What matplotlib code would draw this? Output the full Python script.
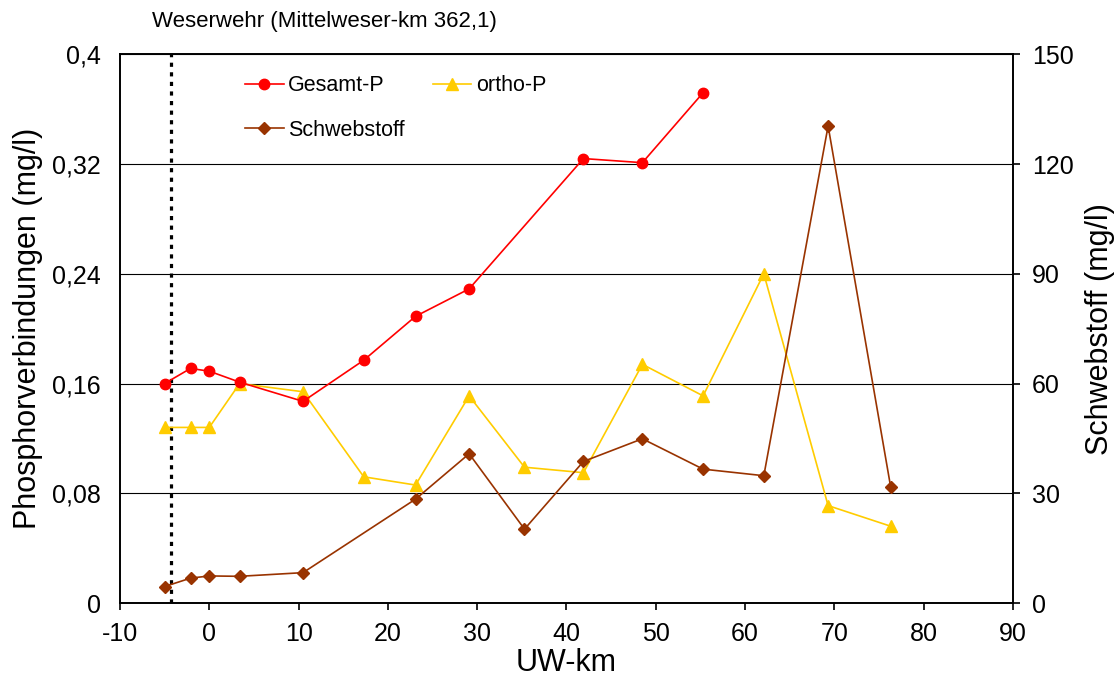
import matplotlib
matplotlib.use('Agg')
import matplotlib.pyplot as plt
from matplotlib.ticker import FuncFormatter

plt.rcParams['font.family'] = ['Liberation Sans', 'DejaVu Sans']
plt.rcParams['axes.unicode_minus'] = False

# UW-km Stationen
km = [-5.0, -2.1, 0.0, 3.4, 10.5, 17.3, 23.1, 29.1, 35.3, 41.9, 48.5, 55.3, 62.1, 69.3, 76.3]

gesamt_p_km = km[:12]
gesamt_p = [0.160, 0.171, 0.169, 0.161, 0.147, 0.177, 0.209, 0.229, None, 0.324, 0.321, 0.372]
ortho_p = [0.128, 0.128, 0.128, 0.160, 0.154, 0.092, 0.086, 0.151, 0.099, 0.095, 0.174, 0.151, 0.240, 0.071, 0.056]
schwebstoff = [4.5, 6.8, 7.4, 7.3, 8.3, None, 28.4, 40.8, 20.2, 38.7, 44.9, 36.6, 34.8, 130.4, 31.8]

wehr_km = -4.3

# Luecken rausnehmen, Linie verbindet die vorhandenen Punkte
gp_x = [x for x, v in zip(gesamt_p_km, gesamt_p) if v is not None]
gp_y = [v for v in gesamt_p if v is not None]
sw_x = [x for x, v in zip(km, schwebstoff) if v is not None]
sw_y = [v for v in schwebstoff if v is not None]

fig = plt.figure(figsize=(11.14, 6.84), dpi=100)
ax = fig.add_axes([0.1077, 0.1184, 0.8016, 0.8022])
ax2 = ax.twinx()

ax.set_xlim(-10, 90)
ax.set_ylim(0, 0.4)
ax2.set_ylim(0, 150)

ax.set_yticks([0, 0.08, 0.16, 0.24, 0.32, 0.4])
ax.yaxis.set_major_formatter(FuncFormatter(lambda v, p: ('%g' % round(v, 2)).replace('.', ',')))
ax.set_xticks(range(-10, 91, 10))
ax2.set_yticks(range(0, 151, 30))

ax.grid(axis='y', color='black', linewidth=0.8)
ax.set_axisbelow(True)

ax.axvline(wehr_km, color='black', linewidth=2.3, linestyle=(0, (1.3, 1.7)), dash_capstyle='butt', zorder=2)

l1, = ax.plot(gp_x, gp_y, color='#FF0000', marker='o', markersize=7.5, linewidth=1.2, label='Gesamt-P', zorder=4)
l2, = ax.plot(km, ortho_p, color='#FFCC00', marker='^', markersize=8, linewidth=1.2, label='ortho-P', zorder=3)
l3, = ax2.plot(sw_x, sw_y, color='#993300', marker='D', markersize=6, linewidth=1.2, label='Schwebstoff', zorder=3)

for a in (ax, ax2):
    for s in a.spines.values():
        s.set_linewidth(1.2)
        s.set_color('black')

ax.tick_params(axis='x', direction='out', length=5, width=1.2, labelsize=18, pad=9)
ax.tick_params(axis='y', length=0, labelsize=18, pad=14)
ax2.tick_params(axis='y', direction='out', length=5, width=1.2, labelsize=18, pad=8.5)

ax.set_xlabel('UW-km', fontsize=22, labelpad=1)
ax.set_ylabel('Phosphorverbindungen (mg/l)', fontsize=22, labelpad=6)
ax2.set_ylabel('Schwebstoff (mg/l)', fontsize=22, labelpad=8)

fig.text(152 / 1114, 1 - 22 / 684, 'Weserwehr (Mittelweser-km 362,1)', fontsize=16, va='center', ha='left')

ax2.legend([l1, l3, l2], ['Gesamt-P', 'Schwebstoff', 'ortho-P'], ncol=2, frameon=False,
           fontsize=15.5, loc='upper left', bbox_to_anchor=(0.140, 0.962), borderaxespad=0, borderpad=0,
           handlelength=1.8, handletextpad=0.2, columnspacing=1.3, labelspacing=1.1)

fig.savefig('out.png', dpi=100)
